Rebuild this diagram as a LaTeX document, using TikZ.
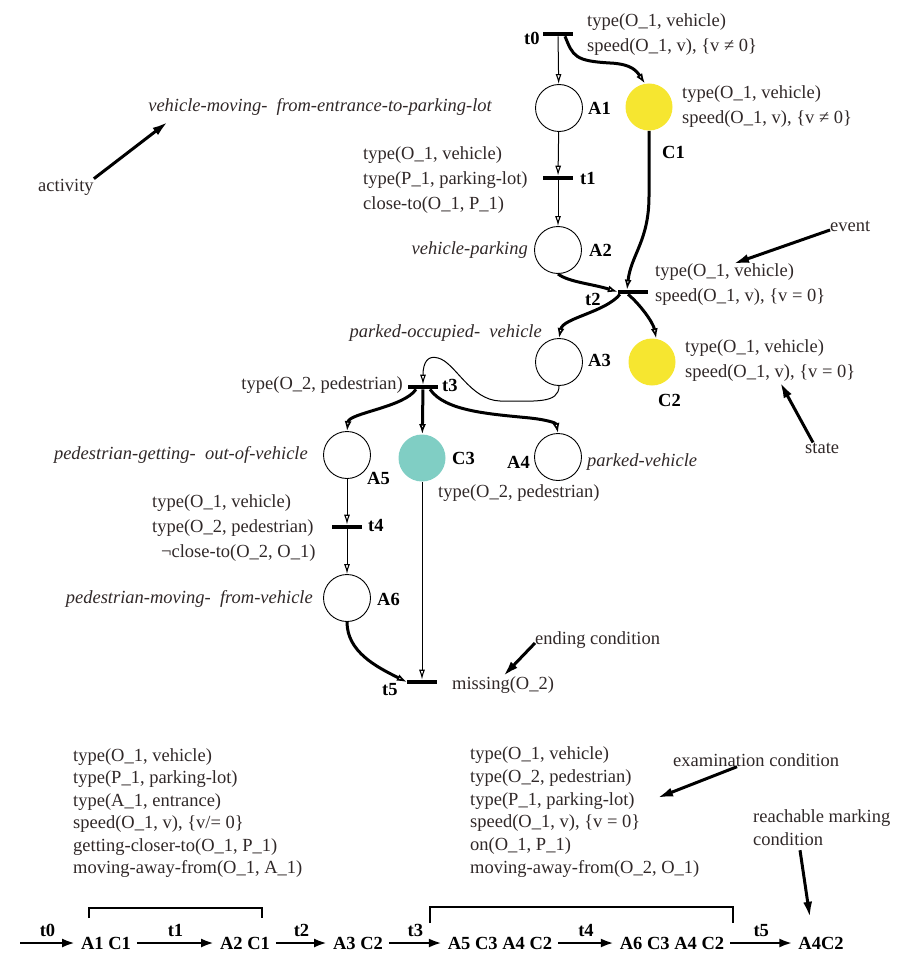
\documentclass[tikz,border=0pt]{standalone}
\usepackage{fontspec}
\setmainfont{Liberation Serif}
\usetikzlibrary{arrows.meta}
\definecolor{inkgray}{RGB}{48,40,40}
\definecolor{sunyellow}{RGB}{246,230,48}
\definecolor{seateal}{RGB}{128,206,196}
\newcommand{\netfont}{\fontsize{18.5}{25}\selectfont}
\tikzset{
  place/.style={circle,draw,line width=0.9pt,minimum size=47pt,inner sep=0pt},
  token/.style={place,draw=none,fill=#1},
  bar/.style={fill=black,minimum width=30pt,minimum height=4.2pt,inner sep=0pt},
  pname/.style={font=\netfont\bfseries,inner sep=0pt},
  act/.style={font=\netfont\itshape,text=inkgray,inner sep=0pt},
  cond/.style={align=left,text=inkgray,inner sep=0pt},
  lightarc/.style={line width=1pt,-{Latex[open,length=10pt,width=6pt,line width=1.1pt]}},
  heavyarc/.style={line width=3pt,-{Latex[open,length=10pt,width=7pt,line width=1.6pt]}},
  note/.style={line width=3pt,-{Latex[length=16pt,width=9pt]}},
  seq/.style={line width=2.8pt,-{Latex[length=13pt,width=9pt]}},
  marking/.style={pname,outer sep=6pt}
}
\begin{document}
\begin{tikzpicture}[x=1pt,y=-1pt,font=\netfont]
  \useasboundingbox (0,0) rectangle (904,960);
  % places
  \node[place] (A1) at (559,108) {};
  \node[token=sunyellow] (C1) at (649,107) {};
  \node[place] (A2) at (558,250) {};
  \node[place] (A3) at (559,362) {};
  \node[token=sunyellow] (C2) at (652,362) {};
  \node[place] (A5) at (347,455) {};
  \node[token=seateal] (C3) at (422,458) {};
  \node[place] (A4) at (558,457) {};
  \node[place] (A6) at (347,598) {};
  % transitions
  \node[bar] (t0) at (558,34) {};
  \node[bar] (t1) at (558,178) {};
  \node[bar] (t2) at (633,292) {};
  \node[bar] (t3) at (423,387) {};
  \node[bar] (t4) at (347,527) {};
  \node[bar] (t5) at (422,682) {};
  % names
  \node[pname,anchor=west] (t0lbl) at (524,38) {t0};
  \node[pname,anchor=west] (t1lbl) at (580,178) {t1};
  \node[pname,anchor=west] (t2lbl) at (585,299) {t2};
  \node[pname,anchor=west] (t3lbl) at (442,385) {t3};
  \node[pname,anchor=west] (t4lbl) at (368,525) {t4};
  \node[pname,anchor=west] (t5lbl) at (382,690) {t5};
  \node[pname,anchor=west] (A1lbl) at (588,108) {A1};
  \node[pname,anchor=west] (A2lbl) at (589,250) {A2};
  \node[pname,anchor=west] (A3lbl) at (588,360) {A3};
  \node[pname,anchor=east] (A4lbl) at (530,462) {A4};
  \node[pname,anchor=west] (A5lbl) at (367,478) {A5};
  \node[pname,anchor=west] (A6lbl) at (377,599) {A6};
  \node[pname,anchor=west] (C1lbl) at (662,152) {C1};
  \node[pname,anchor=west] (C2lbl) at (658,400) {C2};
  \node[pname,anchor=west] (C3lbl) at (452,458) {C3};
  % activities
  \node[act,anchor=east] (actA1) at (492,107) {vehicle-moving-\ \ from-entrance-to-parking-lot};
  \node[act,anchor=east] (actA2) at (528,250) {vehicle-parking};
  \node[act,anchor=east] (actA3) at (542,333) {parked-occupied-\ \ vehicle};
  \node[act,anchor=west] (actA4) at (587,462) {parked-vehicle};
  \node[act,anchor=east] (actA5) at (308,455) {pedestrian-getting-\ \ out-of-vehicle};
  \node[act,anchor=east] (actA6) at (313,599) {pedestrian-moving-\ \ from-vehicle};
  % conditions
  \node[cond,anchor=west] (t0txt) at (587,35) {type(O\_1, vehicle)\\speed(O\_1, v), \{v ≠ 0\}};
  \node[cond,anchor=west] (C1txt) at (682,107) {type(O\_1, vehicle)\\speed(O\_1, v), \{v ≠ 0\}};
  \node[cond,anchor=west] (t1txt) at (363,180) {type(O\_1, vehicle)\\type(P\_1, parking-lot)\\close-to(O\_1, P\_1)};
  \node[cond,anchor=west] (t2txt) at (655,285) {type(O\_1, vehicle)\\speed(O\_1, v), \{v = 0\}};
  \node[cond,anchor=west] (C2txt) at (685,361) {type(O\_1, vehicle)\\speed(O\_1, v), \{v = 0\}};
  \node[cond,anchor=east] (t3txt) at (403,385) {type(O\_2, pedestrian)};
  \node[cond,anchor=west] (C3txt) at (438,493) {type(O\_2, pedestrian)};
  \node[cond,anchor=west] (t4txt) at (152,528) {type(O\_1, vehicle)\\type(O\_2, pedestrian)\\\hspace*{9pt}¬close-to(O\_2, O\_1)};
  \node[cond,anchor=west] (t5txt) at (452,685) {missing(O\_2)};
  % arcs
  \draw[lightarc] (t0) -- (A1);
  \draw[heavyarc] ([xshift=7pt]t0.south) .. controls +(8,20) and +(-35,-2) .. (610,63)
    .. controls +(22,1) and +(-8,-12) .. (C1.100);
  \draw[lightarc] (A1) -- (t1);
  \draw[lightarc] (t1) -- (A2);
  \draw[heavyarc] (C1.south) -- ++(0,65) .. controls +(0,45) and +(4,-35) .. ([xshift=-6pt]t2.north);
  \draw[heavyarc] (A2.south) .. controls +(10,8) and +(-25,-8) .. (t2.west);
  \draw[heavyarc] ([xshift=-13pt]t2.south) .. controls +(-15,18) and +(4,-20) .. (A3.north);
  \draw[heavyarc] ([xshift=-5pt]t2.south) .. controls +(12,10) and +(-3,-16) .. (C2.80);
  \draw[lightarc] (A3.south) .. controls +(0,18) and +(35,0) .. (500,401)
    .. controls (470,400) and (455,362) .. (438,358) .. controls (428,355) and (423,362) .. (t3.north);
  \draw[heavyarc] ([xshift=-7pt]t3.south) .. controls +(-12,18) and +(2,-18) .. (A5.north);
  \draw[heavyarc] (t3) -- (C3);
  \draw[heavyarc] ([xshift=7pt]t3.south) .. controls +(15,22) and +(-40,-4) .. (530,418)
    .. controls +(18,2) and +(-2,-10) .. (A4.north);
  \draw[lightarc] (A5) -- (t4);
  \draw[lightarc] (t4) -- (A6);
  \draw[heavyarc] (A6.south) .. controls +(0,30) and +(-30,-15) .. (t5.west);
  \draw[lightarc] (C3) -- (t5);
  % annotations
  \node[cond,anchor=west] (actword) at (38,187) {activity};
  \node[cond,anchor=west] (evword) at (830,226) {event};
  \node[cond,anchor=west] (stword) at (805,448) {state};
  \node[cond,anchor=west] (endword) at (535,640) {ending condition};
  \draw[note] (actword.north east) -- ([shift={(20,6)}]actA1.south west);
  \draw[note] ([shift={(0,4)}]evword.west) -- ([xshift=78pt]t2txt.north west);
  \draw[note] ([xshift=8pt]stword.north west) -- ([xshift=95pt]C2txt.south west);
  \draw[note] ([shift={(0,3)}]endword.west) -- ([xshift=51pt]t5txt.north west);
  % sequence of markings
  \node[cond,anchor=west,font=\fontsize{18.5}{22.5}\selectfont] (seqA) at (73,813)
    {type(O\_1, vehicle)\\type(P\_1, parking-lot)\\type(A\_1, entrance)\\speed(O\_1, v), \{v/= 0\}\\getting-closer-to(O\_1, P\_1)\\moving-away-from(O\_1, A\_1)};
  \node[cond,anchor=west,font=\fontsize{18.5}{22.8}\selectfont] (seqB) at (470,812)
    {type(O\_1, vehicle)\\type(O\_2, pedestrian)\\type(P\_1, parking-lot)\\speed(O\_1, v), \{v = 0\}\\on(O\_1, P\_1)\\moving-away-from(O\_2, O\_1)};
  \node[cond,anchor=west] (examword) at (673,760) {examination condition};
  \node[cond,anchor=west,font=\fontsize{18.5}{23}\selectfont] (reachword) at (753,828) {reachable marking\\condition};
  \coordinate (s0) at (20,943);
  \node[marking] (m1) at (106,943) {A1 C1};
  \node[marking] (m2) at (245,943) {A2 C1};
  \node[marking] (m3) at (358,943) {A3 C2};
  \node[marking] (m4) at (500,943) {A5 C3 A4 C2};
  \node[marking] (m5) at (672,943) {A6 C3 A4 C2};
  \node[marking] (m6) at (821,943) {A4C2};
  \draw[seq] (s0) -- node[pname,above=5pt] (q0) {t0} (m1);
  \draw[seq] (m1) -- node[pname,above=5pt] (q1) {t1} (m2);
  \draw[seq] (m2) -- node[pname,above=5pt] (q2) {t2} (m3);
  \draw[seq] (m3) -- node[pname,above=5pt] (q3) {t3} (m4);
  \draw[seq] (m4) -- node[pname,above=5pt] (q4) {t4} (m5);
  \draw[seq] (m5) -- node[pname,above=5pt] (q5) {t5} (m6);
  \draw[line width=2.8pt] (89,918) |- (262,908) -- (262,918);
  \draw[line width=2.8pt] (430,923) |- (733,907) -- (733,923);
  \draw[note] ([xshift=64pt]examword.south west) -- ([shift={(187,-14)}]seqB.west);
  \draw[note] ([shift={(47,4)}]reachword.south west) -- ([shift={(-11,-13)}]m6.north);
\end{tikzpicture}
\end{document}
